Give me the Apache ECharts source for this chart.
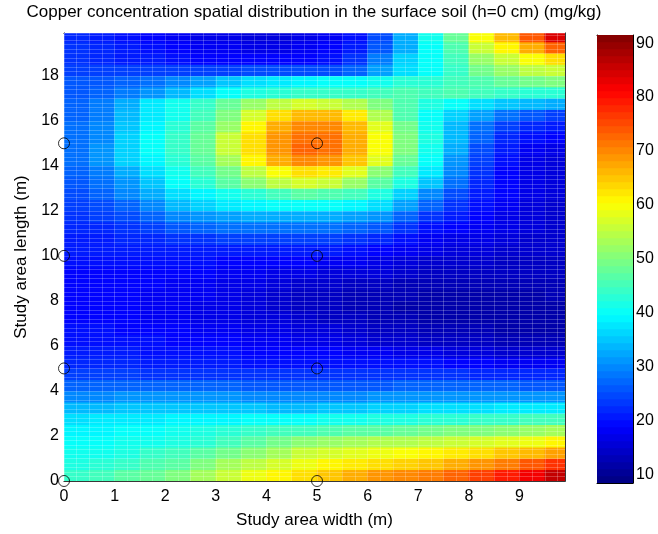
<!DOCTYPE html>
<html><head><meta charset="utf-8">
<script src="https://cdn.jsdelivr.net/npm/echarts/dist/echarts.min.js"></script>
<style>html,body{margin:0;padding:0;background:#fff}#c{width:658px;height:534px}</style>
</head><body><div id="c"></div>
<script>
// cell centres (m)
const xCenters = [0.25,0.75,1.25,1.75,2.25,2.75,3.25,3.75,4.25,4.75,5.25,5.75,6.25,6.75,7.25,7.75,8.25,8.75,9.25,9.75];
const yCenters = [0.25,0.75,1.25,1.75,2.25,2.75,3.25,3.75,4.25,4.75,5.25,5.75,6.25,6.75,7.25,7.75,8.25,8.75,9.25,9.75,
                  10.25,10.75,11.25,11.75,12.25,12.75,13.25,13.75,14.25,14.75,15.25,15.75,16.25,16.75,17.25,17.75,18.25,18.75,19.25,19.75];
// copper concentration (mg/kg), one row per yCenter (bottom to top), one column per xCenter
const cuRows = [
  [44,45,47,48,50,53,56,59,61,63,65,67,69,70,71,73,76,79,82,86],
  [42,43,44,46,47,50,53,55,57,59,61,62,63,64,65,67,69,71,74,77],
  [41,41,42,44,45,47,49,51,53,56,57,58,59,60,61,62,63,65,66,68],
  [40,40,41,41,42,43,45,47,49,51,52,53,54,54,55,56,57,58,59,61],
  [39,39,40,40,41,42,43,44,45,45,46,47,47,48,49,50,50,51,52,53],
  [37,38,38,38,39,39,39,40,40,40,41,41,42,42,43,43,44,44,45,45],
  [34,34,35,35,35,35,35,35,34,34,35,35,36,36,37,37,37,38,38,38],
  [30,30,31,31,31,31,31,30,30,30,30,30,31,31,31,31,31,31,31,31],
  [27,27,27,27,27,27,27,26,26,26,26,26,26,27,27,27,27,27,26,26],
  [24,24,24,23,23,23,23,23,23,23,23,23,23,23,23,23,22,22,22,22],
  [22,22,22,21,21,21,21,20,20,20,20,20,20,20,20,19,19,18,18,18],
  [21,21,21,20,20,20,20,19,19,19,19,18,18,17,17,16,16,15,15,15],
  [20,20,20,20,19,19,19,18,18,17,17,16,15,15,14,14,14,13,13,13],
  [20,20,19,19,19,18,18,17,17,16,16,15,14,14,13,13,13,12,12,12],
  [19,19,19,18,18,17,17,16,16,15,14,14,13,13,12,12,12,12,12,12],
  [19,19,19,18,18,17,17,16,15,14,14,13,13,12,12,12,12,12,12,12],
  [19,19,19,18,18,18,17,16,15,14,14,13,13,13,12,12,12,12,12,13],
  [19,19,19,19,18,18,17,17,16,15,15,14,14,13,13,13,13,13,13,13],
  [19,19,19,19,19,19,18,18,17,17,16,16,16,15,14,14,14,14,14,14],
  [20,20,20,20,20,20,19,19,19,19,18,18,17,16,15,15,15,14,14,14],
  [21,21,21,21,21,21,21,21,21,21,21,20,19,18,17,16,16,15,15,15],
  [21,21,22,22,23,23,24,24,24,24,24,23,22,20,18,17,17,16,15,15],
  [22,22,23,24,26,27,28,28,28,28,28,27,26,23,20,19,18,17,16,15],
  [23,24,25,27,30,31,32,33,33,33,33,32,31,27,23,21,19,17,16,15],
  [24,25,27,30,34,36,38,39,40,40,40,39,37,32,27,23,20,18,16,15],
  [25,27,30,33,37,39,41,43,45,47,46,45,42,36,30,25,21,19,17,16],
  [26,28,31,35,40,43,47,51,55,57,56,52,47,42,35,28,22,19,17,16],
  [27,29,33,37,41,45,49,55,60,63,62,58,51,45,38,30,23,19,17,16],
  [28,31,36,39,43,47,53,61,67,70,69,65,58,48,40,31,24,20,17,16],
  [28,31,36,40,44,48,56,63,69,73,72,67,60,50,41,33,25,21,18,17],
  [28,30,36,40,44,48,56,63,69,72,72,67,60,50,42,34,27,22,20,19],
  [28,30,35,39,43,47,52,61,67,70,70,66,58,49,41,34,28,24,22,21],
  [27,29,34,38,41,45,50,57,63,66,66,62,54,46,40,36,32,28,26,24],
  [27,29,33,38,41,44,48,52,55,57,56,54,50,46,42,40,37,35,34,33],
  [26,27,29,31,34,37,40,42,43,44,44,44,45,46,45,46,45,44,43,43],
  [26,26,27,28,30,32,35,37,38,39,40,40,41,43,43,45,46,48,49,50],
  [24,24,24,24,24,24,24,25,25,25,25,27,32,37,40,44,49,52,55,56],
  [23,22,21,21,20,19,19,19,19,19,20,23,29,36,40,45,52,56,60,63],
  [23,22,21,20,19,18,18,17,17,18,19,21,26,33,40,46,56,61,67,73],
  [22,21,20,19,18,17,17,16,16,17,18,20,25,33,41,48,60,66,74,84]
];
const cellW = 0.5, cellH = 0.5;
// sampling points (m)
const sampleX = [0,0,0,0,5,5,5,5];
const sampleY = [0,5,10,15,0,5,10,15];
// axes
const xTickValues = [0,1,2,3,4,5,6,7,8,9];
const yTickValues = [0,2,4,6,8,10,12,14,16,18];
const cbTickValues = [10,20,30,40,50,60,70,80,90];
const cbMin = 8.5, cbMax = 91.5, cbLevels = 64;
const jet = ['#00007F','#0000FF','#007FFF','#00FFFF','#7FFF7F','#FFFF00','#FF7F00','#FF0000','#7F0000'];
// surface mesh spacing (m)
const meshDx = 0.25, meshDy = 0.2;

const FONT = 'Liberation Sans, Arial, Helvetica, sans-serif';

const heatData = [];
cuRows.forEach((row, j) => row.forEach((v, i) => heatData.push([xCenters[i], yCenters[j], v])));
const cbStep = (cbMax - cbMin) / cbLevels;
const cbData = [];
for (let k = 0; k < cbLevels; k++) { const v = cbMin + (k + 0.5) * cbStep; cbData.push([0.5, v, v]); }

function cellRenderer(w, h) {
  return function (params, api) {
    const x = api.value(0), y = api.value(1);
    const p0 = api.coord([x - w / 2, y - h / 2]);
    const p1 = api.coord([x + w / 2, y + h / 2]);
    const cs = params.coordSys;
    const r = echarts.graphic.clipRectByRect(
      { x: p0[0] - 0.3, y: p1[1] - 0.3, width: p1[0] - p0[0] + 0.6, height: p0[1] - p1[1] + 0.6 },
      { x: cs.x, y: cs.y, width: cs.width, height: cs.height });
    if (!r) return;
    return { type: 'rect', shape: r, style: { fill: api.visual('color') } };
  };
}

const axisLineBlack = { show: true, onZero: false, lineStyle: { color: '#000', width: 1 } };
const tickStyle = { color: '#000', fontSize: 16, fontFamily: FONT };
const nameStyle = { color: '#000', fontSize: 17, fontFamily: FONT };
const meshLine = { show: true, lineStyle: { color: 'rgba(255,255,255,0.22)', width: 1 } };

const chart = echarts.init(document.getElementById('c'), null, { renderer: 'canvas' });
chart.setOption({
  animation: false,
  backgroundColor: '#fff',
  graphic: [{
    type: 'text', x: 314, y: 12, z: 100,
    style: { text: 'Copper concentration spatial distribution in the surface soil (h=0 cm) (mg/kg)',
      textAlign: 'center', textVerticalAlign: 'middle', align: 'center', verticalAlign: 'middle',
      fontSize: 17, fontFamily: FONT, fill: '#000' }
  }],
  grid: [
    { left: 64, top: 33, width: 501, height: 448.5 },
    { left: 597, top: 35, width: 36, height: 448 }
  ],
  visualMap: {
    type: 'continuous', show: false, min: cbMin, max: cbMax, dimension: 2,
    seriesIndex: [0, 2], inRange: { color: jet }
  },
  xAxis: [
    { gridIndex: 0, type: 'value', min: 0, max: 9.9, position: 'bottom',
      name: 'Study area width (m)', nameLocation: 'middle', nameGap: 31,
      nameTextStyle: nameStyle,
      axisLine: axisLineBlack,
      axisTick: { show: true, inside: true, length: 5, customValues: xTickValues, lineStyle: { color: '#000' } },
      axisLabel: Object.assign({ margin: 8, customValues: xTickValues }, tickStyle),
      splitLine: { show: false } },
    { gridIndex: 0, type: 'value', min: 0, max: 9.9, position: 'top',
      axisLine: axisLineBlack,
      axisTick: { show: true, inside: true, length: 5, customValues: xTickValues, lineStyle: { color: '#000' } },
      axisLabel: { show: false }, splitLine: { show: false } },
    { gridIndex: 1, type: 'value', min: 0, max: 1, position: 'bottom',
      axisLine: axisLineBlack, axisTick: { show: false }, axisLabel: { show: false }, splitLine: { show: false } },
    { gridIndex: 1, type: 'value', min: 0, max: 1, position: 'top',
      axisLine: axisLineBlack, axisTick: { show: false }, axisLabel: { show: false }, splitLine: { show: false } },
    { gridIndex: 0, type: 'value', min: 0, max: 9.9, interval: meshDx, position: 'bottom', z: 3,
      axisLine: { show: false }, axisTick: { show: false }, axisLabel: { show: false }, splitLine: meshLine }
  ],
  yAxis: [
    { gridIndex: 0, type: 'value', min: 0, max: 19.9, position: 'left',
      name: 'Study area length (m)', nameLocation: 'middle', nameGap: 34,
      nameTextStyle: nameStyle,
      axisLine: axisLineBlack,
      axisTick: { show: true, inside: true, length: 5, customValues: yTickValues, lineStyle: { color: '#000' } },
      axisLabel: Object.assign({ margin: 5, customValues: yTickValues }, tickStyle),
      splitLine: { show: false } },
    { gridIndex: 0, type: 'value', min: 0, max: 19.9, position: 'right',
      axisLine: axisLineBlack,
      axisTick: { show: true, inside: true, length: 5, customValues: yTickValues, lineStyle: { color: '#000' } },
      axisLabel: { show: false }, splitLine: { show: false } },
    { gridIndex: 1, type: 'value', min: cbMin, max: cbMax, position: 'right',
      axisLine: axisLineBlack,
      axisTick: { show: true, inside: true, length: 4, customValues: cbTickValues, lineStyle: { color: '#000' } },
      axisLabel: Object.assign({ margin: 3, customValues: cbTickValues }, tickStyle),
      splitLine: { show: false } },
    { gridIndex: 1, type: 'value', min: cbMin, max: cbMax, position: 'left',
      axisLine: axisLineBlack,
      axisTick: { show: true, inside: true, length: 4, customValues: cbTickValues, lineStyle: { color: '#000' } },
      axisLabel: { show: false }, splitLine: { show: false } },
    { gridIndex: 0, type: 'value', min: 0, max: 19.9, interval: meshDy, position: 'left', z: 3,
      axisLine: { show: false }, axisTick: { show: false }, axisLabel: { show: false }, splitLine: meshLine }
  ],
  series: [
    { type: 'custom', xAxisIndex: 0, yAxisIndex: 0, data: heatData,
      renderItem: cellRenderer(cellW, cellH), encode: { x: 0, y: 1 }, silent: true, z: 1 },
    { type: 'scatter', xAxisIndex: 0, yAxisIndex: 0, clip: false, z: 5,
      data: sampleX.map((x, i) => [x, sampleY[i]]),
      symbol: 'circle', symbolSize: 11,
      itemStyle: { color: 'rgba(0,0,0,0)', borderColor: '#000', borderWidth: 1 } },
    { type: 'custom', xAxisIndex: 2, yAxisIndex: 2, data: cbData,
      renderItem: cellRenderer(1, cbStep), encode: { x: 0, y: 1 }, silent: true, z: 1 }
  ]
});
</script></body></html>
